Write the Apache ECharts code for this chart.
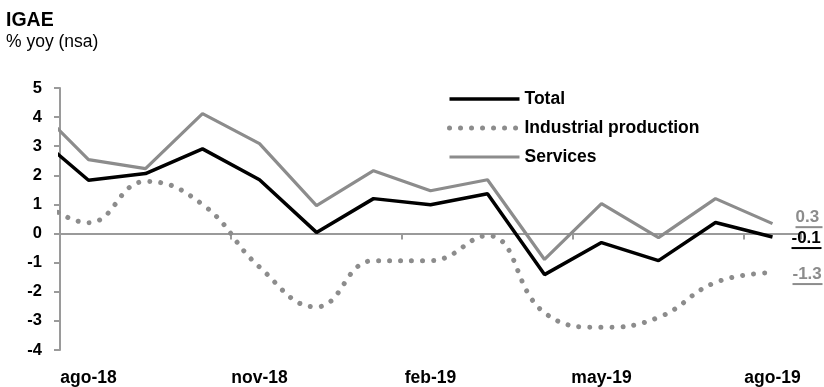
<!DOCTYPE html>
<html>
<head>
<meta charset="utf-8">
<script src="https://cdn.jsdelivr.net/npm/echarts@6/dist/echarts.min.js"></script>
<style>
html,body{margin:0;padding:0;background:#fff;}
#c{width:824px;height:387px;}
</style>
</head>
<body>
<div id="c"></div>
<script>
// Months (first one lies just left of the plot and is clipped)
var categories = ['jul-18','ago-18','sep-18','oct-18','nov-18','dic-18','ene-19','feb-19','mar-19','abr-19','may-19','jun-19','jul-19','ago-19'];
var totalValues = [3.5, 1.83, 2.06, 2.91, 1.85, 0.04, 1.2, 0.99, 1.37, -1.41, -0.31, -0.93, 0.38, -0.12];
var industrialValues = [1.4, 0.37, 1.79, 1.0, -1.15, -2.52, -0.93, -0.93, -0.07, -2.72, -3.22, -2.88, -1.68, -1.34];
var servicesValues = [4.5, 2.54, 2.23, 4.12, 3.09, 0.96, 2.16, 1.47, 1.85, -0.89, 1.03, -0.14, 1.2, 0.34];
var yTicks = [-4, -3, -2, -1, 0, 1, 2, 3, 4, 5];

var FONT = "'Liberation Sans',Arial,sans-serif";
var GRAY = '#8c8c8c';
var AXIS = '#9a9a9a';

function endLabel(color, underlineW, dy, dist) {
  return {
    show: true,
    distance: dist,
    offset: [0, dy],
    formatter: function (p) {
      return '{v|' + Number(p.value).toFixed(1) + '}\n{u|}';
    },
    rich: {
      v: {fontFamily: FONT, fontWeight: 'bold', fontSize: 17, lineHeight: 17, color: color},
      u: {width: underlineW, height: 2, lineHeight: 3, backgroundColor: color}
    }
  };
}

var chart = echarts.init(document.getElementById('c'), null, {renderer: 'canvas'});
chart.setOption({
  animation: false,
  backgroundColor: '#fff',
  title: [
    {text: 'IGAE', left: 6, top: 11, padding: 0, textStyle: {fontFamily: FONT, fontWeight: 'bold', fontSize: 19.5, color: '#000'}},
    {text: '% yoy (nsa)', left: 6, top: 33, padding: 0, textStyle: {fontFamily: FONT, fontWeight: 'normal', fontSize: 17.5, color: '#000'}}
  ],
  legend: {
    orient: 'vertical',
    left: 442,
    top: 85,
    itemWidth: 70,
    itemHeight: 14,
    itemGap: 11,
    lineStyle: {width: 'inherit'},
    itemStyle: {opacity: 0},
    textStyle: {fontFamily: FONT, fontWeight: 'bold', fontSize: 17.5, lineHeight: 18, color: '#000'},
    data: ['Total', 'Industrial production', 'Services']
  },
  grid: {left: 60, right: 23, top: 88, bottom: 36, containLabel: false},
  xAxis: [
    {
      type: 'category',
      data: categories,
      min: 1,
      boundaryGap: true,
      position: 'bottom',
      axisLine: {show: false, onZero: false},
      axisTick: {show: false},
      axisLabel: {
        margin: 19,
        fontFamily: FONT, fontWeight: 'bold', fontSize: 17.5, color: '#000',
        interval: function (i) { return (i - 1) % 3 === 0; }
      },
      splitLine: {show: false}
    },
    {
      type: 'category',
      data: categories,
      min: 1,
      boundaryGap: true,
      position: 'bottom',
      axisLine: {show: true, onZero: true, lineStyle: {color: AXIS, width: 2}},
      axisTick: {show: true, length: 6, lineStyle: {color: AXIS, width: 2},
        interval: function (i) { return (i - 1) % 3 === 0; }},
      axisLabel: {show: false},
      splitLine: {show: false}
    }
  ],
  yAxis: {
    type: 'value',
    min: yTicks[0],
    max: yTicks[yTicks.length - 1],
    interval: 1,
    axisLine: {show: true, onZero: false, lineStyle: {color: AXIS, width: 2}},
    axisTick: {show: true, length: 6, lineStyle: {color: AXIS, width: 2}},
    axisLabel: {margin: 18, fontFamily: FONT, fontWeight: 'bold', fontSize: 16.5, color: '#000'},
    splitLine: {show: false}
  },
  series: [
    {
      name: 'Total',
      type: 'line',
      data: totalValues,
      symbol: 'none',
      clip: true,
      z: 4,
      lineStyle: {color: '#000', width: 3.5},
      itemStyle: {color: '#000'},
      endLabel: endLabel('#000', 30, 2.5, 19)
    },
    {
      name: 'Industrial production',
      type: 'line',
      data: industrialValues,
      symbol: 'none',
      smooth: 0.45,
      clip: true,
      z: 2,
      lineStyle: {color: GRAY, width: 5, type: [0.01, 11], cap: 'round'},
      itemStyle: {color: GRAY},
      endLabel: endLabel(GRAY, 30, 3, 20)
    },
    {
      name: 'Services',
      type: 'line',
      data: servicesValues,
      symbol: 'none',
      clip: true,
      z: 3,
      lineStyle: {color: GRAY, width: 3.2},
      itemStyle: {color: GRAY},
      endLabel: endLabel(GRAY, 27, -5, 23)
    }
  ]
});
</script>
</body>
</html>
